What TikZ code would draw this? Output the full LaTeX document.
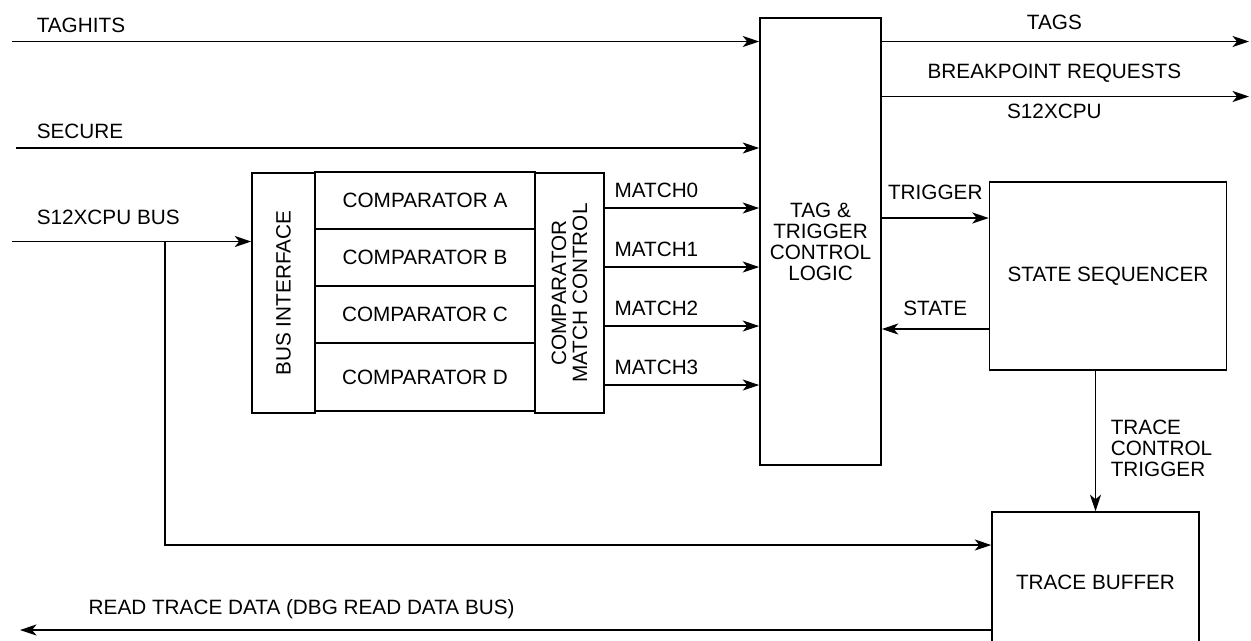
\documentclass[tikz,border=0pt]{standalone}
\usepackage{fontspec}
\setmainfont{Liberation Sans}
\usetikzlibrary{positioning,arrows.meta}

\begin{document}
\begin{tikzpicture}[x=0.02cm, y=-0.02cm, line width=0.9pt,
    font=\fontsize{11.8}{12}\selectfont,
    box/.style={draw, inner sep=0pt, align=center},
    sig/.style={-{Stealth[length=3.3mm, width=2.2mm, inset=0.9mm]}},
    lbl/.style={inner sep=0pt}
  ]
  \useasboundingbox (0,0) rectangle (1251,640);

  % comparator block
  \node[box, minimum width=1.26cm, minimum height=4.8cm,
        label={[rotate=90]center:BUS INTERFACE}] (busif) at (283.5,293) {};
  \foreach \c/\y/\h in {A/200.5/1.14, B/257.5/1.14, C/314.5/1.14, D/377/1.36}
    \node[box, minimum width=4.4cm, minimum height=\h cm] (cmp\c) at (425,\y) {COMPARATOR \c};
  \node[box, minimum width=1.38cm, minimum height=4.8cm,
        label={[rotate=90, align=center]center:COMPARATOR\\MATCH CONTROL}] (cmc) at (569.5,293) {};

  % main blocks
  \node[box, minimum width=2.42cm, minimum height=8.94cm] (tagctl) at (820.5,241.5)
    {TAG \&\\TRIGGER\\CONTROL\\LOGIC};
  \node[box, minimum width=4.74cm, minimum height=3.76cm] (stseq) at (1108,276) {STATE SEQUENCER};
  \node[box, minimum width=4.14cm, minimum height=2.8cm] (trbuf) at (1095.5,582) {TRACE BUFFER};

  % ends of the signals
  \coordinate (taghitsin) at (12,41.5);
  \coordinate (securein) at (16,148);
  \coordinate (busin) at (12,241.5);
  \coordinate (busfork) at (165,241.5);
  \coordinate (tagsout) at (1249,41.5);
  \coordinate (bkptout) at (1249,96.5);
  \coordinate (readout) at (20,630);

  % inputs
  \draw[sig] (taghitsin) -- (taghitsin -| tagctl.west);
  \node[lbl, above right=0.16cm and 0.48cm of taghitsin] (taghitslbl) {TAGHITS};
  \draw[sig] (securein) -- (securein -| tagctl.west);
  \node[lbl, above right=0.18cm and 0.4cm of securein] (securelbl) {SECURE};
  \draw[sig] (busin) -- (busin -| busif.west);
  \node[lbl, above right=0.32cm and 0.48cm of busin] (buslbl) {S12XCPU BUS};
  \draw[sig] (busfork) |- (trbuf.west |- 0,545);

  % match lines
  \foreach \i in {0,...,3}
    \draw[sig] (cmc.east |- 0,{208+59*\i}) -- (tagctl.west |- 0,{208+59*\i})
      node[lbl, pos=0, above right=0.2cm and 0.18cm] (match\i) {MATCH\i};

  % outputs
  \draw[sig] (tagctl.east |- tagsout) -- (tagsout)
    node[lbl, pos=0.47, above=0.22cm] (tagslbl) {TAGS};
  \draw[sig] (tagctl.east |- bkptout) -- (bkptout)
    node[lbl, pos=0.47, above=0.26cm] (bkptlbl) {BREAKPOINT REQUESTS}
    node[lbl, pos=0.47, below=0.13cm] (cpulbl) {S12XCPU};

  % sequencer
  \draw[sig] (tagctl.east |- 0,218) -- (stseq.west |- 0,218)
    node[lbl, midway, above=0.36cm] (trglbl) {TRIGGER};
  \draw[sig] (stseq.west |- 0,329) -- (tagctl.east |- 0,329)
    node[lbl, midway, above=0.26cm] (statelbl) {STATE};
  \draw[sig] (stseq.south -| trbuf.north) -- (trbuf.north);
  \node[lbl, align=left, anchor=north west] (tctllbl) at (1110,419) {TRACE\\CONTROL\\TRIGGER};

  % trace read
  \draw[sig] (trbuf.west |- readout) -- (readout)
    node[lbl, pos=0.71, above=0.2cm] (readlbl) {READ TRACE DATA (DBG READ DATA BUS)};
\end{tikzpicture}
\end{document}
